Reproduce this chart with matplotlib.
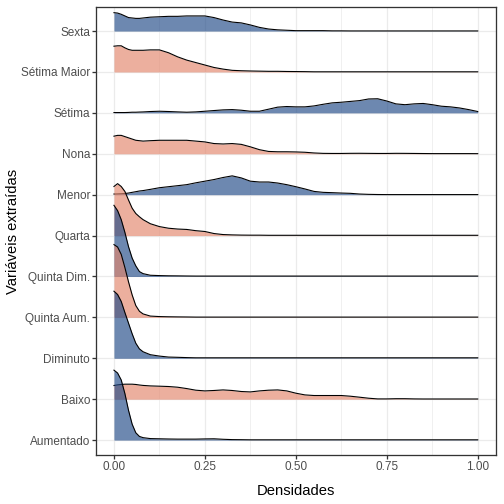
import numpy as np
import matplotlib.pyplot as plt

plt.rcParams['font.family'] = ['Liberation Sans', 'DejaVu Sans']

# categories, bottom to top
cats = ['Aumentado', 'Baixo', 'Diminuto', 'Quinta Aum.', 'Quinta Dim.', 'Quarta',
        'Menor', 'Nona', 'Sétima', 'Sétima Maior', 'Sexta']

# x positions where the ridge heights were read
xs = [0, 0.01, 0.02, 0.03, 0.04, 0.05, 0.06, 0.07, 0.08, 0.10,
      0.125, 0.15, 0.175, 0.2, 0.225, 0.25, 0.275, 0.3, 0.325, 0.35, 0.375, 0.4,
      0.425, 0.45, 0.475, 0.5, 0.525, 0.55, 0.575, 0.6, 0.625, 0.65, 0.675, 0.7,
      0.725, 0.75, 0.775, 0.8, 0.825, 0.85, 0.875, 0.9, 0.925, 0.95, 0.975, 1.0]

# ridge heights (in units of row spacing)
aumentado = [1.71, 1.64, 1.47, 1.14, 0.73, 0.39, 0.18, 0.09, 0.06, 0.037, 0.032, 0.027, 0.024,
             0.024, 0.024, 0.029, 0.032, 0.02, 0.012, 0.01] + [0.007] * 26
baixo = [0.335, 0.35, 0.36, 0.367, 0.367, 0.367, 0.36, 0.347, 0.337, 0.325, 0.318, 0.31, 0.293,
         0.26, 0.22, 0.203, 0.213, 0.227, 0.213, 0.188, 0.178, 0.203, 0.22, 0.227, 0.203, 0.147,
         0.105, 0.09, 0.09, 0.09, 0.09, 0.073, 0.049, 0.024, 0.007, 0.007, 0.012, 0.012, 0.007] + [0.005] * 7
diminuto = [1.64, 1.56, 1.39, 1.12, 0.86, 0.60, 0.37, 0.23, 0.16, 0.088, 0.054, 0.03, 0.024,
            0.017] + [0.012] * 32
quinta_aum = [1.78, 1.72, 1.54, 1.22, 0.87, 0.55, 0.29, 0.15, 0.085, 0.032, 0.02, 0.015, 0.012,
              0.01] + [0.007] * 32
quinta_dim = [1.74, 1.61, 1.39, 1.08, 0.73, 0.45, 0.26, 0.12, 0.07, 0.03, 0.022, 0.017, 0.015,
              0.012] + [0.01] * 32
quarta = [1.20, 1.27, 1.20, 1.08, 0.87, 0.67, 0.54, 0.46, 0.39, 0.29, 0.22, 0.18, 0.16, 0.15,
          0.12, 0.10, 0.05, 0.025, 0.017, 0.012, 0.01, 0.01] + [0.007] * 24
menor = [0.016, 0.019, 0.023, 0.029, 0.04, 0.057, 0.073, 0.09, 0.10, 0.13,
         0.17, 0.195, 0.22, 0.245, 0.29, 0.33, 0.37, 0.42, 0.46, 0.41, 0.33, 0.31, 0.31, 0.285,
         0.245, 0.195, 0.14, 0.08, 0.057, 0.049, 0.04, 0.033, 0.016, 0.008, 0.004] + [0.002] * 11
nona = [0.43, 0.45, 0.45, 0.42, 0.39, 0.36, 0.33, 0.32, 0.31, 0.32, 0.33, 0.33, 0.33, 0.33,
        0.31, 0.29, 0.25, 0.24, 0.25, 0.23, 0.17, 0.10, 0.057, 0.049, 0.049, 0.045, 0.037, 0.02,
        0.01, 0.008, 0.008, 0.011, 0.012, 0.01, 0.008, 0.008, 0.011, 0.01, 0.008, 0.006, 0.004,
        0.004, 0.004, 0.004, 0.004, 0.003]
setima = [0.008, 0.008, 0.008, 0.008, 0.011, 0.016, 0.016, 0.02, 0.023, 0.033,
          0.04, 0.033, 0.024, 0.016, 0.024, 0.04, 0.057, 0.073, 0.08, 0.065, 0.04, 0.04, 0.09,
          0.14, 0.155, 0.147, 0.147, 0.17, 0.21, 0.245, 0.26, 0.28, 0.30, 0.34, 0.345, 0.29, 0.22,
          0.20, 0.22, 0.23, 0.20, 0.163, 0.147, 0.12, 0.08, 0.033]
setima_maior = [0.63, 0.64, 0.64, 0.59, 0.55, 0.53, 0.53, 0.53, 0.53, 0.54, 0.54, 0.47, 0.37,
                0.29, 0.23, 0.17, 0.11, 0.07, 0.04, 0.03, 0.024, 0.02, 0.016, 0.016, 0.012, 0.01,
                0.008] + [0.004] * 19
sexta = [0.45, 0.44, 0.41, 0.37, 0.33, 0.32, 0.31, 0.31, 0.32, 0.34, 0.35, 0.36, 0.36, 0.37,
         0.37, 0.37, 0.33, 0.27, 0.22, 0.20, 0.15, 0.09, 0.05, 0.03, 0.02, 0.01, 0.01, 0.01, 0.01,
         0.005, 0.005] + [0.003] * 15

ridges = [aumentado, baixo, diminuto, quinta_aum, quinta_dim, quarta,
          menor, nona, setima, setima_maior, sexta]

blue = '#1F4886'
salmon = '#E3856B'

fig = plt.figure(figsize=(7, 7), dpi=72)
ax = fig.add_axes([0.190, 0.097, 0.794, 0.889])

x = np.array(xs)
n = len(cats)
for i, h in enumerate(ridges):
    base = i + 1
    col = blue if i % 2 == 0 else salmon
    z = 10 + (n - i) * 2
    ax.fill_between(x, base, base + np.array(h), color=col, alpha=0.65, lw=0, zorder=z)
    ax.plot(x, base + np.array(h), color='black', lw=1.1, zorder=z + 1)

ax.set_xlim(-0.05, 1.05)
ax.set_ylim(0.633, 11.587)
ax.set_yticks(range(1, n + 1))
ax.set_yticklabels(cats)
ax.set_xticks([0, 0.25, 0.5, 0.75, 1.0])
ax.set_xticklabels(['0.00', '0.25', '0.50', '0.75', '1.00'])
ax.set_xticks([0.125, 0.375, 0.625, 0.875], minor=True)

ax.grid(True, which='major', color='#EBEBEB', lw=1.3, zorder=0)
ax.grid(True, which='minor', axis='x', color='#EBEBEB', lw=0.7, zorder=0)
ax.set_axisbelow(True)
for s in ax.spines.values():
    s.set_color('#333333')
    s.set_linewidth(1.3)
ax.tick_params(which='major', length=3.7, width=1.3, color='#333333', labelcolor='#4D4D4D',
               labelsize=11.7, pad=2.0)
ax.tick_params(which='minor', length=0)

ax.set_xlabel('Densidades', fontsize=14.7, color='black')
ax.set_ylabel('Variáveis extraídas', fontsize=14.7, color='black')
ax.xaxis.set_label_coords(0.5, -0.065)
ax.yaxis.set_label_coords(-0.19, 0.5)

fig.savefig('out.png', dpi=72)
